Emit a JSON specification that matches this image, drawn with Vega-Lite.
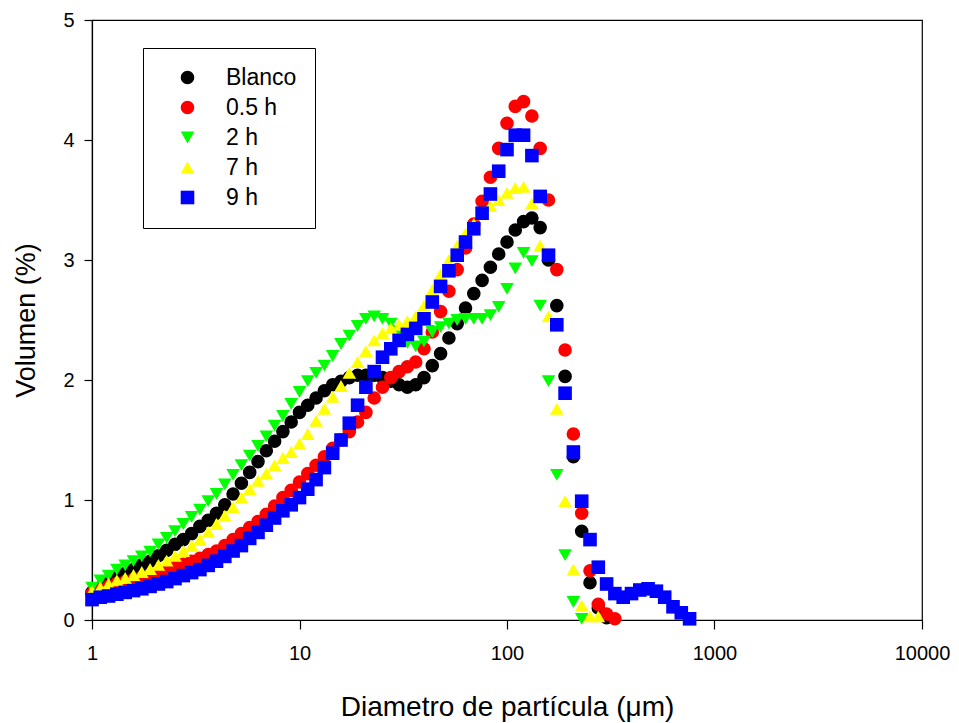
{
"$schema": "https://vega.github.io/schema/vega-lite/v6.json",
"width": 830, "height": 600,
"autosize": {"type": "none"},
"padding": {"left": 92, "top": 20, "right": 37, "bottom": 103},
"background": "white",
"config": {"view": {"stroke": "black", "strokeWidth": 1.2}, "font": "Liberation Sans"},
"datasets": {"pts": [
{"s":"Blanco","d":1,"v":0.23},{"s":"Blanco","d":1.096,"v":0.27},{"s":"Blanco","d":1.202,"v":0.31},{"s":"Blanco","d":1.318,"v":0.355},{"s":"Blanco","d":1.445,"v":0.39},{"s":"Blanco","d":1.585,"v":0.42},{"s":"Blanco","d":1.738,"v":0.46},{"s":"Blanco","d":1.905,"v":0.49},{"s":"Blanco","d":2.089,"v":0.535},{"s":"Blanco","d":2.291,"v":0.58},
{"s":"Blanco","d":2.512,"v":0.63},{"s":"Blanco","d":2.754,"v":0.67},{"s":"Blanco","d":3.02,"v":0.72},{"s":"Blanco","d":3.311,"v":0.78},{"s":"Blanco","d":3.631,"v":0.83},{"s":"Blanco","d":3.981,"v":0.89},{"s":"Blanco","d":4.365,"v":0.96},{"s":"Blanco","d":4.786,"v":1.05},{"s":"Blanco","d":5.248,"v":1.14},{"s":"Blanco","d":5.754,"v":1.23},
{"s":"Blanco","d":6.31,"v":1.32},{"s":"Blanco","d":6.918,"v":1.41},{"s":"Blanco","d":7.586,"v":1.49},{"s":"Blanco","d":8.318,"v":1.57},{"s":"Blanco","d":9.12,"v":1.65},{"s":"Blanco","d":10,"v":1.73},{"s":"Blanco","d":10.96,"v":1.79},{"s":"Blanco","d":12.02,"v":1.85},{"s":"Blanco","d":13.18,"v":1.91},{"s":"Blanco","d":14.45,"v":1.96},
{"s":"Blanco","d":15.85,"v":1.99},{"s":"Blanco","d":17.38,"v":2.02},{"s":"Blanco","d":19.05,"v":2.04},{"s":"Blanco","d":20.89,"v":2.04},{"s":"Blanco","d":22.91,"v":2.04},{"s":"Blanco","d":25.12,"v":2.02},{"s":"Blanco","d":27.54,"v":1.99},{"s":"Blanco","d":30.2,"v":1.96},{"s":"Blanco","d":33.11,"v":1.94},{"s":"Blanco","d":36.31,"v":1.96},
{"s":"Blanco","d":39.81,"v":2.02},{"s":"Blanco","d":43.65,"v":2.12},{"s":"Blanco","d":47.86,"v":2.22},{"s":"Blanco","d":52.48,"v":2.35},{"s":"Blanco","d":57.54,"v":2.47},{"s":"Blanco","d":63.1,"v":2.6},{"s":"Blanco","d":69.18,"v":2.72},{"s":"Blanco","d":75.86,"v":2.83},{"s":"Blanco","d":83.18,"v":2.94},{"s":"Blanco","d":91.2,"v":3.05},
{"s":"Blanco","d":100,"v":3.15},{"s":"Blanco","d":109.6,"v":3.25},{"s":"Blanco","d":120.2,"v":3.32},{"s":"Blanco","d":131.8,"v":3.35},{"s":"Blanco","d":144.5,"v":3.27},{"s":"Blanco","d":158.5,"v":3.0},{"s":"Blanco","d":173.8,"v":2.62},{"s":"Blanco","d":190.5,"v":2.03},{"s":"Blanco","d":208.9,"v":1.36},{"s":"Blanco","d":229.1,"v":0.74},
{"s":"Blanco","d":251.2,"v":0.31},{"s":"Blanco","d":275.4,"v":0.1},{"s":"Blanco","d":302,"v":0.02},
{"s":"0.5 h","d":1,"v":0.22},{"s":"0.5 h","d":1.096,"v":0.25},{"s":"0.5 h","d":1.202,"v":0.28},{"s":"0.5 h","d":1.318,"v":0.305},{"s":"0.5 h","d":1.445,"v":0.32},{"s":"0.5 h","d":1.585,"v":0.34},{"s":"0.5 h","d":1.738,"v":0.355},{"s":"0.5 h","d":1.905,"v":0.37},{"s":"0.5 h","d":2.089,"v":0.39},{"s":"0.5 h","d":2.291,"v":0.415},
{"s":"0.5 h","d":2.512,"v":0.44},{"s":"0.5 h","d":2.754,"v":0.465},{"s":"0.5 h","d":3.02,"v":0.49},{"s":"0.5 h","d":3.311,"v":0.515},{"s":"0.5 h","d":3.631,"v":0.545},{"s":"0.5 h","d":3.981,"v":0.575},{"s":"0.5 h","d":4.365,"v":0.62},{"s":"0.5 h","d":4.786,"v":0.67},{"s":"0.5 h","d":5.248,"v":0.72},{"s":"0.5 h","d":5.754,"v":0.77},
{"s":"0.5 h","d":6.31,"v":0.82},{"s":"0.5 h","d":6.918,"v":0.88},{"s":"0.5 h","d":7.586,"v":0.95},{"s":"0.5 h","d":8.318,"v":1.02},{"s":"0.5 h","d":9.12,"v":1.08},{"s":"0.5 h","d":10,"v":1.15},{"s":"0.5 h","d":10.96,"v":1.22},{"s":"0.5 h","d":12.02,"v":1.29},{"s":"0.5 h","d":13.18,"v":1.36},{"s":"0.5 h","d":14.45,"v":1.43},
{"s":"0.5 h","d":15.85,"v":1.5},{"s":"0.5 h","d":17.38,"v":1.57},{"s":"0.5 h","d":19.05,"v":1.65},{"s":"0.5 h","d":20.89,"v":1.73},{"s":"0.5 h","d":22.91,"v":1.85},{"s":"0.5 h","d":25.12,"v":1.94},{"s":"0.5 h","d":27.54,"v":2.02},{"s":"0.5 h","d":30.2,"v":2.07},{"s":"0.5 h","d":33.11,"v":2.11},{"s":"0.5 h","d":36.31,"v":2.15},
{"s":"0.5 h","d":39.81,"v":2.26},{"s":"0.5 h","d":43.65,"v":2.4},{"s":"0.5 h","d":47.86,"v":2.57},{"s":"0.5 h","d":52.48,"v":2.74},{"s":"0.5 h","d":57.54,"v":2.92},{"s":"0.5 h","d":63.1,"v":3.1},{"s":"0.5 h","d":69.18,"v":3.3},{"s":"0.5 h","d":75.86,"v":3.49},{"s":"0.5 h","d":83.18,"v":3.69},{"s":"0.5 h","d":91.2,"v":3.93},
{"s":"0.5 h","d":100,"v":4.14},{"s":"0.5 h","d":109.6,"v":4.28},{"s":"0.5 h","d":120.2,"v":4.32},{"s":"0.5 h","d":131.8,"v":4.2},{"s":"0.5 h","d":144.5,"v":3.93},{"s":"0.5 h","d":158.5,"v":3.5},{"s":"0.5 h","d":173.8,"v":2.92},{"s":"0.5 h","d":190.5,"v":2.25},{"s":"0.5 h","d":208.9,"v":1.55},{"s":"0.5 h","d":229.1,"v":0.89},
{"s":"0.5 h","d":251.2,"v":0.41},{"s":"0.5 h","d":275.4,"v":0.13},{"s":"0.5 h","d":302,"v":0.05},{"s":"0.5 h","d":331.1,"v":0.01},
{"s":"2 h","d":1,"v":0.27},{"s":"2 h","d":1.096,"v":0.33},{"s":"2 h","d":1.202,"v":0.37},{"s":"2 h","d":1.318,"v":0.42},{"s":"2 h","d":1.445,"v":0.455},{"s":"2 h","d":1.585,"v":0.49},{"s":"2 h","d":1.738,"v":0.53},{"s":"2 h","d":1.905,"v":0.57},{"s":"2 h","d":2.089,"v":0.63},{"s":"2 h","d":2.291,"v":0.685},
{"s":"2 h","d":2.512,"v":0.74},{"s":"2 h","d":2.754,"v":0.8},{"s":"2 h","d":3.02,"v":0.86},{"s":"2 h","d":3.311,"v":0.92},{"s":"2 h","d":3.631,"v":0.99},{"s":"2 h","d":3.981,"v":1.05},{"s":"2 h","d":4.365,"v":1.13},{"s":"2 h","d":4.786,"v":1.21},{"s":"2 h","d":5.248,"v":1.29},{"s":"2 h","d":5.754,"v":1.37},
{"s":"2 h","d":6.31,"v":1.45},{"s":"2 h","d":6.918,"v":1.53},{"s":"2 h","d":7.586,"v":1.62},{"s":"2 h","d":8.318,"v":1.7},{"s":"2 h","d":9.12,"v":1.8},{"s":"2 h","d":10,"v":1.9},{"s":"2 h","d":10.96,"v":1.99},{"s":"2 h","d":12.02,"v":2.06},{"s":"2 h","d":13.18,"v":2.12},{"s":"2 h","d":14.45,"v":2.2},
{"s":"2 h","d":15.85,"v":2.3},{"s":"2 h","d":17.38,"v":2.37},{"s":"2 h","d":19.05,"v":2.45},{"s":"2 h","d":20.89,"v":2.51},{"s":"2 h","d":22.91,"v":2.53},{"s":"2 h","d":25.12,"v":2.51},{"s":"2 h","d":27.54,"v":2.47},{"s":"2 h","d":30.2,"v":2.41},{"s":"2 h","d":33.11,"v":2.31},{"s":"2 h","d":36.31,"v":2.28},
{"s":"2 h","d":39.81,"v":2.32},{"s":"2 h","d":43.65,"v":2.4},{"s":"2 h","d":47.86,"v":2.44},{"s":"2 h","d":52.48,"v":2.47},{"s":"2 h","d":57.54,"v":2.5},{"s":"2 h","d":63.1,"v":2.51},{"s":"2 h","d":69.18,"v":2.51},{"s":"2 h","d":75.86,"v":2.51},{"s":"2 h","d":83.18,"v":2.54},{"s":"2 h","d":91.2,"v":2.61},
{"s":"2 h","d":100,"v":2.76},{"s":"2 h","d":109.6,"v":2.93},{"s":"2 h","d":120.2,"v":3.06},{"s":"2 h","d":131.8,"v":2.99},{"s":"2 h","d":144.5,"v":2.62},{"s":"2 h","d":158.5,"v":1.99},{"s":"2 h","d":173.8,"v":1.21},{"s":"2 h","d":190.5,"v":0.54},{"s":"2 h","d":208.9,"v":0.15},{"s":"2 h","d":229.1,"v":0.01},
{"s":"7 h","d":1,"v":0.24},{"s":"7 h","d":1.096,"v":0.27},{"s":"7 h","d":1.202,"v":0.3},{"s":"7 h","d":1.318,"v":0.33},{"s":"7 h","d":1.445,"v":0.35},{"s":"7 h","d":1.585,"v":0.375},{"s":"7 h","d":1.738,"v":0.4},{"s":"7 h","d":1.905,"v":0.425},{"s":"7 h","d":2.089,"v":0.46},{"s":"7 h","d":2.291,"v":0.495},
{"s":"7 h","d":2.512,"v":0.535},{"s":"7 h","d":2.754,"v":0.575},{"s":"7 h","d":3.02,"v":0.62},{"s":"7 h","d":3.311,"v":0.67},{"s":"7 h","d":3.631,"v":0.735},{"s":"7 h","d":3.981,"v":0.8},{"s":"7 h","d":4.365,"v":0.87},{"s":"7 h","d":4.786,"v":0.94},{"s":"7 h","d":5.248,"v":1.02},{"s":"7 h","d":5.754,"v":1.09},
{"s":"7 h","d":6.31,"v":1.16},{"s":"7 h","d":6.918,"v":1.22},{"s":"7 h","d":7.586,"v":1.29},{"s":"7 h","d":8.318,"v":1.35},{"s":"7 h","d":9.12,"v":1.4},{"s":"7 h","d":10,"v":1.47},{"s":"7 h","d":10.96,"v":1.55},{"s":"7 h","d":12.02,"v":1.66},{"s":"7 h","d":13.18,"v":1.76},{"s":"7 h","d":14.45,"v":1.86},
{"s":"7 h","d":15.85,"v":1.95},{"s":"7 h","d":17.38,"v":2.06},{"s":"7 h","d":19.05,"v":2.15},{"s":"7 h","d":20.89,"v":2.24},{"s":"7 h","d":22.91,"v":2.33},{"s":"7 h","d":25.12,"v":2.39},{"s":"7 h","d":27.54,"v":2.43},{"s":"7 h","d":30.2,"v":2.46},{"s":"7 h","d":33.11,"v":2.49},{"s":"7 h","d":36.31,"v":2.53},
{"s":"7 h","d":39.81,"v":2.62},{"s":"7 h","d":43.65,"v":2.75},{"s":"7 h","d":47.86,"v":2.88},{"s":"7 h","d":52.48,"v":3.0},{"s":"7 h","d":57.54,"v":3.12},{"s":"7 h","d":63.1,"v":3.22},{"s":"7 h","d":69.18,"v":3.3},{"s":"7 h","d":75.86,"v":3.38},{"s":"7 h","d":83.18,"v":3.45},{"s":"7 h","d":91.2,"v":3.5},
{"s":"7 h","d":100,"v":3.56},{"s":"7 h","d":109.6,"v":3.6},{"s":"7 h","d":120.2,"v":3.61},{"s":"7 h","d":131.8,"v":3.47},{"s":"7 h","d":144.5,"v":3.12},{"s":"7 h","d":158.5,"v":2.53},{"s":"7 h","d":173.8,"v":1.76},{"s":"7 h","d":190.5,"v":0.99},{"s":"7 h","d":208.9,"v":0.42},{"s":"7 h","d":229.1,"v":0.12},
{"s":"7 h","d":251.2,"v":0.03},{"s":"7 h","d":275.4,"v":0.03},
{"s":"9 h","d":1,"v":0.17},{"s":"9 h","d":1.096,"v":0.19},{"s":"9 h","d":1.202,"v":0.2},{"s":"9 h","d":1.318,"v":0.215},{"s":"9 h","d":1.445,"v":0.23},{"s":"9 h","d":1.585,"v":0.245},{"s":"9 h","d":1.738,"v":0.26},{"s":"9 h","d":1.905,"v":0.28},{"s":"9 h","d":2.089,"v":0.3},{"s":"9 h","d":2.291,"v":0.32},
{"s":"9 h","d":2.512,"v":0.345},{"s":"9 h","d":2.754,"v":0.37},{"s":"9 h","d":3.02,"v":0.395},{"s":"9 h","d":3.311,"v":0.42},{"s":"9 h","d":3.631,"v":0.455},{"s":"9 h","d":3.981,"v":0.49},{"s":"9 h","d":4.365,"v":0.53},{"s":"9 h","d":4.786,"v":0.575},{"s":"9 h","d":5.248,"v":0.62},{"s":"9 h","d":5.754,"v":0.68},
{"s":"9 h","d":6.31,"v":0.73},{"s":"9 h","d":6.918,"v":0.79},{"s":"9 h","d":7.586,"v":0.85},{"s":"9 h","d":8.318,"v":0.91},{"s":"9 h","d":9.12,"v":0.96},{"s":"9 h","d":10,"v":1.02},{"s":"9 h","d":10.96,"v":1.09},{"s":"9 h","d":12.02,"v":1.17},{"s":"9 h","d":13.18,"v":1.27},{"s":"9 h","d":14.45,"v":1.39},
{"s":"9 h","d":15.85,"v":1.5},{"s":"9 h","d":17.38,"v":1.64},{"s":"9 h","d":19.05,"v":1.79},{"s":"9 h","d":20.89,"v":1.94},{"s":"9 h","d":22.91,"v":2.07},{"s":"9 h","d":25.12,"v":2.19},{"s":"9 h","d":27.54,"v":2.26},{"s":"9 h","d":30.2,"v":2.33},{"s":"9 h","d":33.11,"v":2.38},{"s":"9 h","d":36.31,"v":2.43},
{"s":"9 h","d":39.81,"v":2.51},{"s":"9 h","d":43.65,"v":2.65},{"s":"9 h","d":47.86,"v":2.78},{"s":"9 h","d":52.48,"v":2.91},{"s":"9 h","d":57.54,"v":3.04},{"s":"9 h","d":63.1,"v":3.15},{"s":"9 h","d":69.18,"v":3.26},{"s":"9 h","d":75.86,"v":3.39},{"s":"9 h","d":83.18,"v":3.55},{"s":"9 h","d":91.2,"v":3.74},
{"s":"9 h","d":100,"v":3.92},{"s":"9 h","d":109.6,"v":4.04},{"s":"9 h","d":120.2,"v":4.04},{"s":"9 h","d":131.8,"v":3.87},{"s":"9 h","d":144.5,"v":3.53},{"s":"9 h","d":158.5,"v":3.04},{"s":"9 h","d":173.8,"v":2.46},{"s":"9 h","d":190.5,"v":1.89},{"s":"9 h","d":208.9,"v":1.4},{"s":"9 h","d":229.1,"v":0.99},
{"s":"9 h","d":251.2,"v":0.67},{"s":"9 h","d":275.4,"v":0.44},{"s":"9 h","d":302,"v":0.3},{"s":"9 h","d":331.1,"v":0.22},{"s":"9 h","d":363.1,"v":0.19},{"s":"9 h","d":398.1,"v":0.22},{"s":"9 h","d":436.5,"v":0.25},{"s":"9 h","d":478.6,"v":0.26},{"s":"9 h","d":524.8,"v":0.24},{"s":"9 h","d":575.4,"v":0.19},
{"s":"9 h","d":631,"v":0.11},{"s":"9 h","d":691.8,"v":0.06},{"s":"9 h","d":758.6,"v":0.01}
]},
"data": {"name": "pts"},
"mark": {"type": "point", "filled": true, "opacity": 1, "strokeWidth": 0},
"encoding": {
  "x": {"field": "d", "type": "quantitative",
    "scale": {"type": "log", "domain": [1, 10000], "nice": false},
    "axis": {"values": [1, 10, 100, 1000, 10000], "format": "d", "title": "Diametro de partícula (μm)",
      "grid": false, "tickSize": 9, "tickColor": "black", "domainColor": "black", "domainWidth": 1.2, "tickWidth": 1.2,
      "labelPadding": 14, "labelFontSize": 20, "labelColor": "black", "labelFont": "Liberation Sans",
      "titleFontSize": 28, "titleFontWeight": "normal", "titleColor": "black", "titleFont": "Liberation Sans", "titlePadding": 30, "labelFlush": false}},
  "y": {"field": "v", "type": "quantitative",
    "scale": {"domain": [0, 5], "nice": false},
    "axis": {"values": [0, 1, 2, 3, 4, 5], "title": "Volumen (%)",
      "grid": false, "tickSize": 8, "tickColor": "black", "domainColor": "black", "domainWidth": 1.2, "tickWidth": 1.2,
      "labelPadding": 10, "labelFontSize": 20, "labelColor": "black", "labelFont": "Liberation Sans",
      "titleFontSize": 27, "titleFontWeight": "normal", "titleColor": "black", "titleFont": "Liberation Sans", "titlePadding": 22}},
  "size": {"field": "s", "type": "nominal", "legend": null,
    "scale": {"domain": ["Blanco", "0.5 h", "2 h", "7 h", "9 h"], "range": [185, 185, 300, 300, 185]}},
  "color": {"field": "s", "type": "nominal",
    "scale": {"domain": ["Blanco", "0.5 h", "2 h", "7 h", "9 h"], "range": ["#000000", "#FF0000", "#00FF00", "#FFFF00", "#0000FF"]},
    "legend": {"title": null, "orient": "none", "legendX": 51, "legendY": 28, "strokeColor": "black", "fillColor": "white", "padding": 18,
      "symbolOffset": 15, "symbolSize": 200, "labelFontSize": 23, "labelFont": "Liberation Sans", "labelColor": "black", "labelOffset": 27, "rowPadding": 6, "symbolStrokeWidth": 0}},
  "shape": {"field": "s", "type": "nominal",
    "scale": {"domain": ["Blanco", "0.5 h", "2 h", "7 h", "9 h"], "range": ["circle", "circle", "triangle-down", "triangle-up", "square"]},
    "legend": {"title": null, "orient": "none", "legendX": 51, "legendY": 28, "strokeColor": "black", "fillColor": "white", "padding": 18,
      "symbolOffset": 15, "symbolSize": 200, "labelFontSize": 23, "labelFont": "Liberation Sans", "labelColor": "black", "labelOffset": 27, "rowPadding": 6, "symbolStrokeWidth": 0}}
}
}
